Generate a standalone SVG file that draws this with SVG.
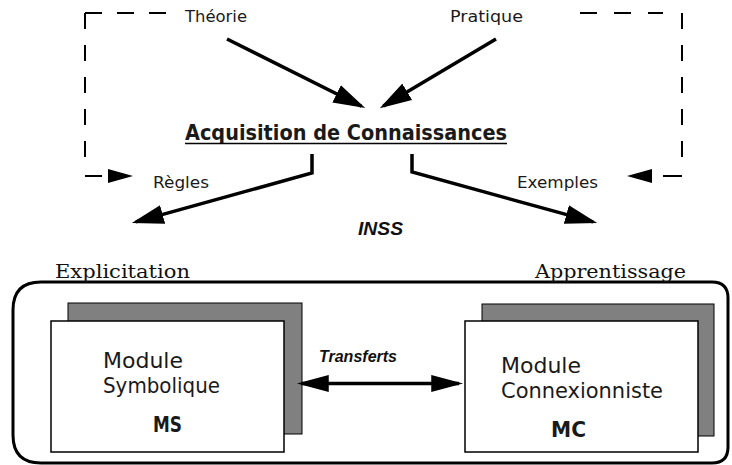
<svg xmlns="http://www.w3.org/2000/svg" width="732" height="465" viewBox="0 0 732 465">
<style>
.t{font-family:"DejaVu Sans","Liberation Sans",sans-serif;fill:#1a1a1a}
.s{font-size:16px}
.m{font-size:21px}
.b{font-weight:bold}
.bi{font-family:"Liberation Sans",Arial,sans-serif;font-weight:bold;font-style:italic;fill:#111}
.serif{font-family:"DejaVu Serif","Liberation Serif",serif;font-size:18px;fill:#111}
.arr{fill:none;stroke:#000;stroke-width:3.5}
.dash{fill:none;stroke:#000;stroke-width:2}
.head{fill:#000}
.shadow{fill:#808080;stroke:#000;stroke-width:1}
.front{fill:#fff;stroke:#000;stroke-width:1.5}
</style>
<defs>
<marker id="ah" markerUnits="userSpaceOnUse" markerWidth="32" markerHeight="20" viewBox="0 0 30 18" refX="26" refY="9" orient="auto">
<path d="M0,0 L30,9 L0,18 Z" fill="#000"/>
</marker>
<marker id="ah2" markerUnits="userSpaceOnUse" markerWidth="32" markerHeight="18" viewBox="0 0 30 16" refX="26" refY="8" orient="auto-start-reverse">
<path d="M0,0 L30,8 L0,16 Z" fill="#000"/>
</marker>
</defs>

<g id="inss-frame">
<path d="M41,282 H712 Q728,282 728,298 V447 Q728,463 712,463 H41 Q13,463 13,435 V310 Q13,282 41,282 Z" fill="none" stroke="#000" stroke-width="3"/>
<text class="serif" x="55" y="278" textLength="135" lengthAdjust="spacingAndGlyphs">Explicitation</text>
<text class="serif" x="535" y="278" textLength="151" lengthAdjust="spacingAndGlyphs">Apprentissage</text>
<text class="bi" x="358" y="235" font-size="19" textLength="45" lengthAdjust="spacingAndGlyphs">INSS</text>
</g>

<g id="theorie"><text class="t s" x="185" y="22" textLength="62" lengthAdjust="spacingAndGlyphs">Théorie</text></g>
<g id="pratique"><text class="t s" x="450" y="22" textLength="73" lengthAdjust="spacingAndGlyphs">Pratique</text></g>
<g id="acquisition">
<text class="t b" x="185" y="140" font-size="21" textLength="322" lengthAdjust="spacingAndGlyphs">Acquisition de Connaissances</text>
<line x1="185" y1="143.5" x2="507" y2="143.5" stroke="#000" stroke-width="1.5"/>
</g>
<g id="regles"><text class="t s" x="153" y="188" textLength="56" lengthAdjust="spacingAndGlyphs">Règles</text></g>
<g id="exemples"><text class="t s" x="517" y="188" textLength="81" lengthAdjust="spacingAndGlyphs">Exemples</text></g>

<g id="ms">
<rect class="shadow" x="68" y="303" width="234" height="131"/>
<rect class="front" x="51" y="321" width="233" height="131"/>
<text class="t m" x="103" y="368" textLength="80" lengthAdjust="spacingAndGlyphs">Module</text>
<text class="t m" x="103" y="393" textLength="117" lengthAdjust="spacingAndGlyphs">Symbolique</text>
<text class="t b" x="153" y="432" font-size="21" textLength="29" lengthAdjust="spacingAndGlyphs">MS</text>
</g>

<g id="mc">
<rect class="shadow" x="482" y="304" width="232" height="132"/>
<rect class="front" x="465" y="321" width="233" height="131"/>
<text class="t m" x="501" y="373" textLength="80" lengthAdjust="spacingAndGlyphs">Module</text>
<text class="t m" x="501" y="398" textLength="162" lengthAdjust="spacingAndGlyphs">Connexionniste</text>
<text class="t b" x="551" y="437" font-size="21" textLength="35" lengthAdjust="spacingAndGlyphs">MC</text>
</g>

<g id="connectors">
<line class="arr" x1="227" y1="39" x2="361.4" y2="106.2" marker-end="url(#ah)"/>
<line class="arr" x1="496" y1="39" x2="383.4" y2="106" marker-end="url(#ah)"/>
<path class="arr" d="M312,154 V173 L135.9,221.9" marker-end="url(#ah)"/>
<path class="arr" d="M412,154 V172 L593.1,221.9" marker-end="url(#ah)"/>
<line x1="301" y1="383.5" x2="459" y2="383.5" stroke="#000" stroke-width="3.5" marker-start="url(#ah2)" marker-end="url(#ah2)"/>
<text class="bi" x="319" y="362" font-size="16" textLength="78" lengthAdjust="spacingAndGlyphs">Transferts</text>

<path class="dash" d="M85,13 H167" stroke-dasharray="17 15"/>
<path class="dash" d="M85,13 V160" stroke-dasharray="16 16"/>
<path class="dash" d="M85,176 H102"/>
<polygon class="head" points="108,169 133,176 108,183"/>

<path class="dash" d="M580,13 H663" stroke-dasharray="17 17"/>
<path class="dash" d="M682,13 V160" stroke-dasharray="16 16"/>
<path class="dash" d="M663,176 H682"/>
<polygon class="head" points="652,169 627,176 652,183"/>
</g>
</svg>
